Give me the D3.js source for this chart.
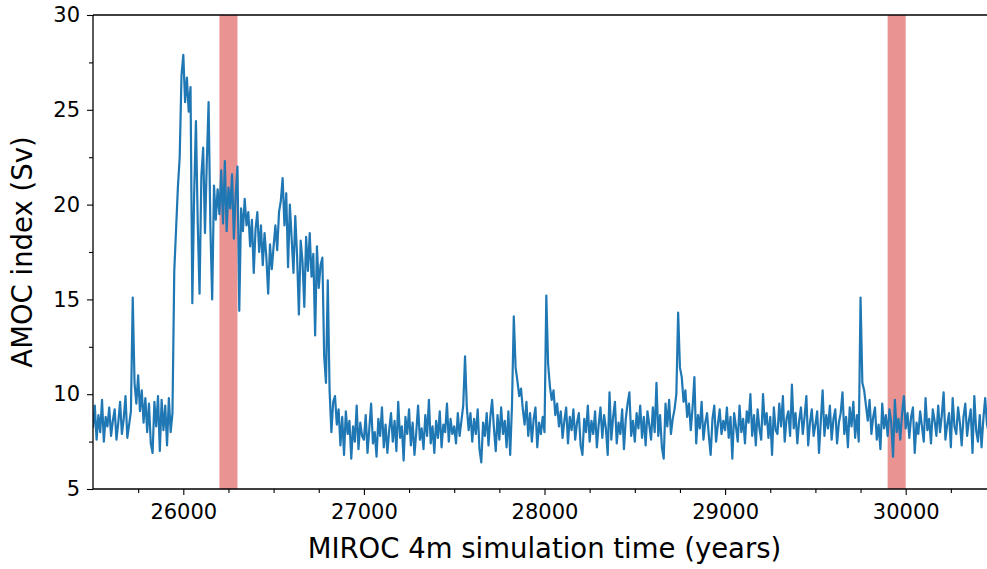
<!DOCTYPE html>
<html>
<head>
<meta charset="utf-8">
<script src="https://cdn.jsdelivr.net/npm/d3@7"></script>
<style>
	body { margin: 0; background: #fff; }
	svg { display: block; font-family: 'DejaVu Sans', sans-serif; }
</style>
</head>
<body>
<svg id="chart" width="987" height="569"></svg>
<script>

var startYear = 25500
var step = 10

// AMOC index (Sv), one value every 10 years
var amoc1 = [8.2, 9.4, 7.6, 8.9, 8.0, 9.7, 7.5, 8.8, 8.3, 9.3,
	7.8, 8.6, 9.2, 7.6, 8.5, 9.6, 7.9, 8.7, 9.9, 7.7,
	8.4, 9.1, 15.1, 10.6, 9.5, 11.0, 9.1, 10.2, 8.5, 9.8,
	8.0, 9.5, 7.4, 6.9, 9.6, 8.3, 9.9, 7.0, 9.7, 8.1,
	9.4, 7.3, 9.8, 8.0, 9.0, 16.5, 18.7, 20.9, 22.5, 26.8]
var amoc2 = [27.9, 25.4, 26.7, 24.9, 26.2, 14.8, 20.5, 24.4, 19.0, 15.3,
	21.5, 23.0, 18.5, 22.2, 25.4, 18.8, 15.0, 21.0, 19.2, 20.8,
	19.5, 21.8, 19.0, 22.3, 18.6, 20.9, 19.8, 21.6, 18.2, 20.5,
	22.0, 14.4, 19.8, 18.6, 20.3, 18.9, 19.6, 17.8, 19.2, 16.4,
	18.7, 19.6, 17.5, 18.9, 16.8, 18.5, 17.2, 15.3, 17.9, 16.6]
var amoc3 = [17.8, 18.9, 17.6, 19.6, 20.2, 21.4, 18.9, 20.6, 16.7, 20.0,
	18.2, 16.4, 19.4, 17.3, 14.2, 18.1, 17.0, 14.6, 18.3, 16.5,
	18.5, 16.2, 17.4, 13.1, 17.8, 15.6, 16.8, 17.2, 12.0, 10.6,
	16.0, 10.2, 8.0, 9.6, 9.9, 8.4, 9.2, 7.3, 8.8, 6.8,
	9.1, 7.9, 8.6, 6.6, 8.3, 7.5, 9.4, 7.1, 8.5, 7.8]
var amoc4 = [7.6, 8.9, 6.9, 8.2, 9.5, 7.4, 8.0, 6.7, 8.7, 7.8,
	9.3, 7.2, 8.4, 6.9, 8.1, 9.0, 7.5, 8.6, 7.0, 9.6,
	7.7, 8.3, 6.5, 8.8, 7.9, 9.2, 7.3, 8.5, 6.8, 8.0,
	9.4, 7.6, 8.2, 7.1, 8.9, 7.8, 9.7, 7.4, 8.3, 6.9,
	8.6, 7.7, 9.1, 7.2, 8.4, 8.0, 9.5, 7.5, 8.7, 7.9]
var amoc5 = [8.3, 7.4, 9.0, 7.8, 8.6, 9.4, 12.0, 9.3, 8.1, 9.0,
	7.5, 8.7, 7.9, 9.2, 7.1, 6.4, 8.5, 7.8, 9.0, 7.3,
	8.8, 9.7, 8.2, 7.0, 8.9, 7.6, 9.3, 7.9, 8.6, 7.2,
	9.1, 6.8, 9.4, 14.1, 11.4, 10.7, 9.9, 10.3, 9.2, 8.4,
	9.6, 7.8, 9.0, 7.5, 8.7, 9.3, 7.2, 8.5, 7.9, 8.8]
var amoc6 = [8.0, 15.2, 11.6, 10.4, 9.7, 10.2, 8.9, 9.5, 8.3, 9.1,
	7.7, 8.6, 9.3, 7.4, 8.8, 8.1, 9.2, 7.6, 8.5, 9.0,
	7.3, 6.8, 8.7, 8.0, 9.4, 7.5, 8.6, 7.9, 9.1, 7.2,
	8.4, 9.3, 7.7, 8.9, 8.2, 6.8, 10.1, 7.6, 8.8, 9.6,
	7.4, 8.5, 7.9, 9.2, 7.1, 8.7, 9.5, 10.1, 7.8, 8.6]
var amoc7 = [7.5, 9.0, 8.2, 9.4, 7.7, 8.8, 7.3, 9.1, 8.4, 7.6,
	9.3, 8.0, 10.6, 7.8, 8.9, 7.2, 6.6, 9.5, 8.3, 9.7,
	7.9, 8.7, 9.2, 10.0, 14.3, 11.4, 10.9, 9.6, 10.2, 8.8,
	9.5, 8.1, 9.3, 10.9, 7.4, 8.9, 8.2, 9.6, 7.6, 8.5,
	9.0, 7.8, 6.8, 8.7, 9.4, 7.5, 8.4, 9.2, 7.9, 8.6]
var amoc8 = [8.1, 9.3, 7.7, 8.8, 6.6, 9.0, 8.3, 7.5, 9.4, 8.0,
	8.7, 7.4, 9.1, 8.5, 10.0, 7.8, 8.9, 7.3, 9.2, 8.2,
	7.6, 10.0, 8.4, 9.0, 7.7, 8.8, 6.8, 9.3, 8.1, 7.9,
	9.5, 8.3, 9.9, 7.5, 8.7, 9.1, 7.8, 10.5, 8.2, 9.0,
	7.4, 8.6, 9.3, 7.9, 8.8, 9.9, 7.3, 8.5, 9.2, 7.8]
var amoc9 = [8.4, 9.1, 6.9, 8.6, 10.2, 7.8, 8.9, 8.2, 9.4, 7.6,
	8.7, 9.2, 7.4, 8.5, 9.0, 10.1, 7.9, 8.8, 7.2, 9.3,
	8.3, 9.6, 7.7, 8.9, 7.5, 15.1, 10.6, 10.2, 9.4, 8.6,
	9.7, 7.9, 8.8, 9.3, 7.6, 8.4, 7.1, 9.5, 8.2, 8.9,
	7.8, 9.2, 8.5, 6.7, 9.7, 8.0, 8.7, 7.6, 9.0, 9.9]
var amoc10 = [8.2, 9.0, 7.7, 8.8, 9.3, 6.9, 8.5, 7.9, 9.1, 8.3,
	7.5, 9.8, 8.1, 8.7, 7.4, 9.2, 8.6, 7.8, 9.4, 8.0,
	8.9, 10.1, 7.6, 8.4, 9.0, 7.2, 9.8, 8.3, 7.9, 9.3,
	8.5, 7.3, 8.8, 9.5, 7.8, 8.6, 9.2, 6.9, 9.9, 8.1,
	7.5, 8.9, 7.2, 8.7, 9.8, 8.4, 8.0, 9.1, 7.7, 8.5, 9.0]

// highlighted periods [from, to]
var bands = [[26200, 26300], [29900, 30000]]

var xMajor = [26000, 27000, 28000, 29000, 30000]
var xMinor = [25750, 26250, 26500, 26750, 27250, 27500, 27750, 28250, 28500, 28750, 29250, 29500, 29750, 30250]
var yMajor = [5, 10, 15, 20, 25, 30]
var yMinor = [7.5, 12.5, 17.5, 22.5, 27.5]

var amoc = [].concat(amoc1, amoc2, amoc3, amoc4, amoc5, amoc6, amoc7, amoc8, amoc9, amoc10)
var series = amoc.map(function(v, i) { return { year: startYear + i * step, value: v } })

var plotLeft = 93, plotRight = 996, plotTop = 15, plotBottom = 489

var svg = d3.select('#chart')

var x = d3.scaleLinear()
	.domain([25500, 30500])
	.range([plotLeft, plotRight])

var y = d3.scaleLinear()
	.domain([5, 30])
	.range([plotBottom, plotTop])

svg.append('clipPath')
	.attr('id', 'plot_clip')
	.append('rect')
	.attr('x', plotLeft)
	.attr('y', plotTop)
	.attr('width', plotRight - plotLeft)
	.attr('height', plotBottom - plotTop)

svg.selectAll('.band')
	.data(bands)
	.enter().append('rect')
	.attr('class', 'band')
	.attr('x', d => x(d[0]))
	.attr('width', d => x(d[1]) - x(d[0]))
	.attr('y', plotTop)
	.attr('height', plotBottom - plotTop)
	.attr('fill', '#d62728')
	.attr('opacity', 0.5)

var line = d3.line()
	.x(d => x(d.year))
	.y(d => y(d.value))

svg.append('path')
	.datum(series)
	.attr('clip-path', 'url(#plot_clip)')
	.attr('fill', 'none')
	.attr('stroke', '#1f77b4')
	.attr('stroke-width', 2.2)
	.attr('stroke-linejoin', 'round')
	.attr('d', line)

// minor ticks first, majors on top
svg.append('g')
	.attr('class', 'minor')
	.attr('transform', 'translate(0,' + plotBottom + ')')
	.call(d3.axisBottom(x).tickValues(xMinor).tickSize(4).tickFormat(''))

svg.append('g')
	.attr('class', 'minor')
	.attr('transform', 'translate(' + plotLeft + ',0)')
	.call(d3.axisLeft(y).tickValues(yMinor).tickSize(4).tickFormat(''))

svg.selectAll('.minor .domain').remove()

var xAxis = svg.append('g')
	.attr('transform', 'translate(0,' + plotBottom + ')')
	.call(d3.axisBottom(x).tickValues(xMajor).tickSize(6).tickPadding(9).tickFormat(d3.format('d')))

var yAxis = svg.append('g')
	.attr('transform', 'translate(' + plotLeft + ',0)')
	.call(d3.axisLeft(y).tickValues(yMajor).tickSize(6).tickPadding(7).tickFormat(d3.format('d')))

// plain spines without the outer tick caps
xAxis.select('.domain').attr('d', 'M' + plotLeft + ',0H' + plotRight)
yAxis.select('.domain').attr('d', 'M0,' + plotBottom + 'V' + plotTop)

svg.selectAll('.domain')
	.attr('stroke', '#000')
	.attr('stroke-width', 1.3)

svg.selectAll('.tick line')
	.attr('stroke', '#000')
	.attr('stroke-width', 1.1)

svg.selectAll('.tick text')
	.attr('font-family', 'DejaVu Sans, sans-serif')
	.attr('font-size', 21)
	.attr('fill', '#000')

svg.append('line')
	.attr('x1', plotLeft)
	.attr('x2', plotRight)
	.attr('y1', plotTop)
	.attr('y2', plotTop)
	.attr('stroke', '#000')
	.attr('stroke-width', 1.3)

svg.append('text')
	.attr('x', (plotLeft + plotRight) / 2)
	.attr('y', 558)
	.attr('text-anchor', 'middle')
	.attr('font-size', 27.5)
	.text('MIROC 4m simulation time (years)')

svg.append('text')
	.attr('transform', 'translate(32,' + ((plotTop + plotBottom) / 2) + ') rotate(-90)')
	.attr('text-anchor', 'middle')
	.attr('font-size', 27.5)
	.text('AMOC index (Sv)')

</script>
</body>
</html>
